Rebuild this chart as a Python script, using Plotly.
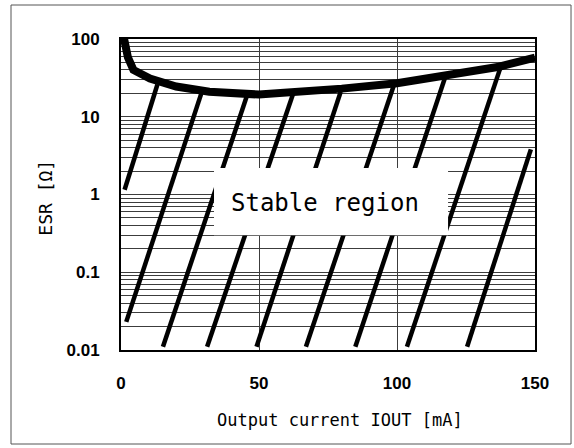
import math
import plotly.graph_objects as go

# ---- data ----
curve_x = [1.0, 1.8, 2.5, 4.5, 10.5, 20, 32, 50, 68, 80, 100, 120, 137, 150]
curve_y = [105, 75, 58, 40, 31, 24.5, 21, 19.3, 21, 23, 27, 34.5, 44, 57.5]

hatch_x0 = [1.3, 1.9, 15.2, 31.2, 49.1, 67.0, 84.9, 103.6, 125.4]
hatch_y0 = [1.15, 0.023, 0.011, 0.011, 0.011, 0.011, 0.011, 0.011, 0.011]
hatch_x1 = [13.2, 29.1, 45.6, 62.3, 79.6, 98.8, 117.3, 137.3, 148.5]
hatch_y1 = [26, 20, 18.5, 19.5, 21, 25, 31, 41, 3.8]

x_ticks = [0, 50, 100, 150]
x_ticklabels = ["0", "50", "100", "150"]
y_ticks = [0.01, 0.1, 1, 10, 100]
y_ticklabels = ["0.01", "0.1", "1", "10", "100"]

label_text = "Stable region"
x_title = "Output current IOUT [mA]"
y_title = "ESR [Ω]"

# ---- build figure ----
hx, hy = [], []
for a, b, c, d in zip(hatch_x0, hatch_y0, hatch_x1, hatch_y1):
    hx += [a, c, None]
    hy += [b, d, None]

minor_vals = []
for dec in [0.01, 0.1, 1, 10]:
    for k in range(2, 10):
        minor_vals.append(k * dec)

fig = go.Figure()
fig.add_trace(go.Scatter(x=hx, y=hy, mode="lines",
                         line=dict(color="black", width=4.5),
                         hoverinfo="skip", showlegend=False))
fig.add_trace(go.Scatter(x=curve_x, y=curve_y, mode="lines",
                         line=dict(color="black", width=8),
                         showlegend=False))

# white box behind the label (covers grid and hatch lines)
fig.add_shape(type="rect", xref="x", yref="y",
              x0=33.7, x1=118.5, y0=0.30, y1=2.19,
              fillcolor="white", line=dict(width=0), layer="above")

fig.add_annotation(text=label_text, x=74.0, y=math.log10(0.78), xref="x", yref="y",
                   showarrow=False,
                   font=dict(family="DejaVu Sans Mono", size=24, color="black"))

fig.add_annotation(text=x_title, xref="paper", yref="paper",
                   x=0.528, y=-0.226, showarrow=False,
                   xanchor="center", yanchor="middle",
                   font=dict(family="DejaVu Sans Mono", size=17, color="black"))
fig.add_annotation(text=y_title, xref="paper", yref="paper",
                   x=-0.181, y=0.49, showarrow=False, textangle=-90,
                   xanchor="center", yanchor="middle",
                   font=dict(family="DejaVu Sans Mono", size=18, color="black"))

# outer frame
fig.add_shape(type="rect", xref="paper", yref="paper",
              x0=-0.2657, x1=1.087, y0=-0.3023, y1=1.1093,
              line=dict(color="#555555", width=1), fillcolor="rgba(0,0,0,0)")

grid_col = "rgb(60,60,60)"
tfont = dict(family="Liberation Sans", size=17, color="black", weight="bold")
fig.update_xaxes(range=[0, 150], tickvals=x_ticks, ticktext=x_ticklabels,
                 showgrid=True, gridcolor=grid_col, gridwidth=1,
                 showline=True, linecolor="black", linewidth=2, mirror=True,
                 ticks="outside", ticklen=17, tickcolor="rgba(0,0,0,0)",
                 zeroline=False, tickfont=tfont)
fig.update_yaxes(type="log", range=[-2, 2], tickvals=y_ticks, ticktext=y_ticklabels,
                 showgrid=True, gridcolor=grid_col, gridwidth=1,
                 minor=dict(tickvals=minor_vals, showgrid=True,
                            gridcolor=grid_col, gridwidth=1),
                 showline=True, linecolor="black", linewidth=2, mirror=True,
                 ticks="outside", ticklen=16, tickcolor="rgba(0,0,0,0)",
                 zeroline=False, tickfont=tfont)

fig.update_layout(width=574, height=448,
                  margin=dict(l=121, r=39, t=39, b=98),
                  paper_bgcolor="white", plot_bgcolor="white",
                  showlegend=False)

fig.write_html("out.html", config={"displayModeBar": False},
               post_script="document.body.style.margin='0px';")
